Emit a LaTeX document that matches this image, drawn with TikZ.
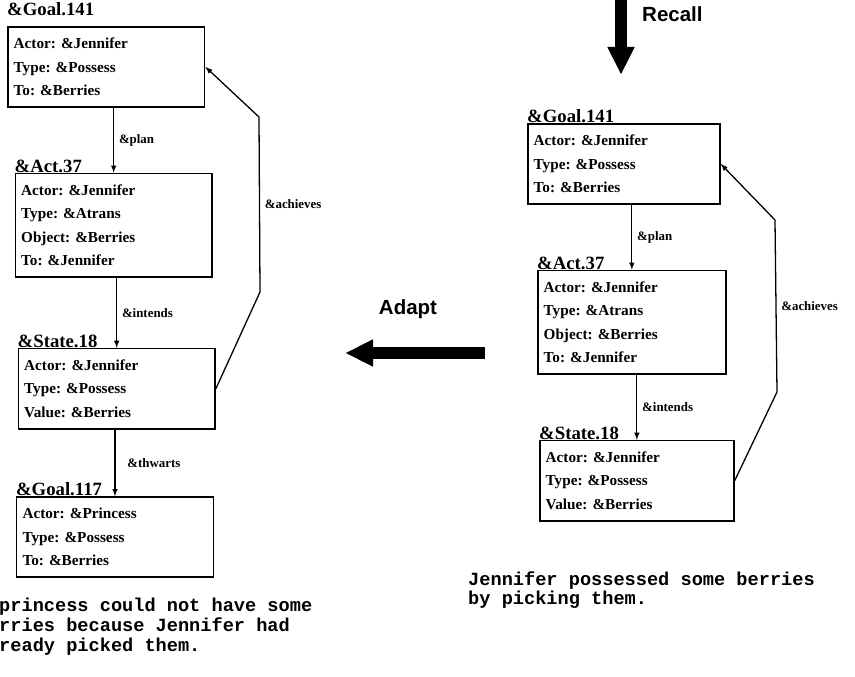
\documentclass[tikz,border=0pt]{standalone}
\usepackage{fontspec}
\setmainfont{Liberation Serif}
\setsansfont{Liberation Sans}
\setmonofont{Liberation Mono}
\usetikzlibrary{positioning,arrows.meta}
\frenchspacing

\begin{document}
\begin{tikzpicture}[x=0.03cm, y=-0.03cm]
  \tikzset{slotbox/.style={draw, line width=1.4pt, align=left, text width=5.55cm,
      inner xsep=5pt, inner ysep=9.5pt, font=\fontsize{13}{20}\selectfont\bfseries},
    frametitle/.style={inner sep=0pt, font=\fontsize{16}{16}\selectfont\bfseries},
    link/.style={line width=1.1pt, -latex},
    linklabel/.style={right, inner sep=4pt, font=\fontsize{11}{11}\selectfont\bfseries},
    bigarrow/.style={line width=0.36cm, -{Triangle[length=0.84cm, width=0.75cm]}},
    caption/.style={inner sep=0pt, font=\sffamily\bfseries\fontsize{17.5}{17.5}\selectfont},
    story/.style={anchor=north west, align=left, inner sep=0pt,
      font=\ttfamily\bfseries\fontsize{15.9}{17}\selectfont}
  }
  \useasboundingbox (0,0) rectangle (855,677);

  % adapted case (left)
  \node[slotbox, anchor=north west] (goalL) at (7,26)
    {Actor: \&Jennifer\\Type: \&Possess\\To: \&Berries};
  \node[slotbox, below=1.95cm of goalL, xshift=0.225cm] (actL)
    {Actor: \&Jennifer\\Type: \&Atrans\\Object: \&Berries\\To: \&Jennifer};
  \node[slotbox, below=2.1cm of actL, xshift=0.09cm] (stateL)
    {Actor: \&Jennifer\\Type: \&Possess\\Value: \&Berries};
  \node[slotbox, below=2.0cm of stateL, xshift=-0.05cm] (goalP)
    {Actor: \&Princess\\Type: \&Possess\\To: \&Berries};

  \node[frametitle, above right=0.3cm and 0cm of goalL.north west] (goalLt) {\&Goal.141};
  \node[frametitle, above right=0cm of actL.north west] (actLt) {\&Act.37};
  \node[frametitle, above right=0cm of stateL.north west] (stateLt) {\&State.18};
  \node[frametitle, above right=0cm of goalP.north west] (goalPt) {\&Goal.117};

  \draw[link] (actL.north |- goalL.south) -- node[linklabel] {\&plan} (actL.north);
  \draw[link] (stateL.north |- actL.south) -- node[linklabel] {\&intends} (stateL.north);
  \draw[link] (goalP.north |- stateL.south) -- node[linklabel, xshift=6pt] {\&thwarts} (goalP.north);

  \coordinate (achL1) at (260,292);
  \coordinate (achL2) at (259,117);
  \draw[link] (stateL.east) -- (achL1) -- node[linklabel] {\&achieves} (achL2) -- (goalL.east);

  % recalled case (right)
  \node[slotbox, text width=5.41cm, anchor=north west] (goalR) at (527,123)
    {Actor: \&Jennifer\\Type: \&Possess\\To: \&Berries};
  \node[slotbox, text width=5.29cm, below=1.95cm of goalR, xshift=0.24cm] (actR)
    {Actor: \&Jennifer\\Type: \&Atrans\\Object: \&Berries\\To: \&Jennifer};
  \node[slotbox, text width=5.47cm, below=1.95cm of actR, xshift=0.15cm] (stateR)
    {Actor: \&Jennifer\\Type: \&Possess\\Value: \&Berries};

  \node[frametitle, above right=0cm of goalR.north west] (goalRt) {\&Goal.141};
  \node[frametitle, above right=0cm of actR.north west] (actRt) {\&Act.37};
  \node[frametitle, above right=0cm of stateR.north west] (stateRt) {\&State.18};

  \draw[link] (actR.north |- goalR.south) -- node[linklabel] {\&plan} (actR.north);
  \draw[link] (stateR.north |- actR.south) -- node[linklabel] {\&intends} (stateR.north);

  \coordinate (achR1) at (777,392);
  \coordinate (achR2) at (775,220);
  \draw[link] (stateR.east) -- (achR1) -- node[linklabel] {\&achieves} (achR2) -- (goalR.east);

  % recall / adapt
  \coordinate (recallTop) at (621,0);
  \coordinate (recallTip) at (621,75);
  \draw[bigarrow] (recallTop) -- (recallTip);
  \node[caption, anchor=west] (recallL) at (642,14) {Recall};

  \coordinate (adaptTail) at (485,353);
  \coordinate (adaptTip) at (345,353);
  \draw[bigarrow] (adaptTail) -- (adaptTip);
  \node[caption] (adaptL) at (408,309) {Adapt};

  % stories
  \node[story] (storyL) at (-1,598)
    {princess could not have some\\rries because Jennifer had\\ready picked them.};
  \node[story] (storyR) at (468,571)
    {Jennifer possessed some berries\\by picking them.};
\end{tikzpicture}
\end{document}
